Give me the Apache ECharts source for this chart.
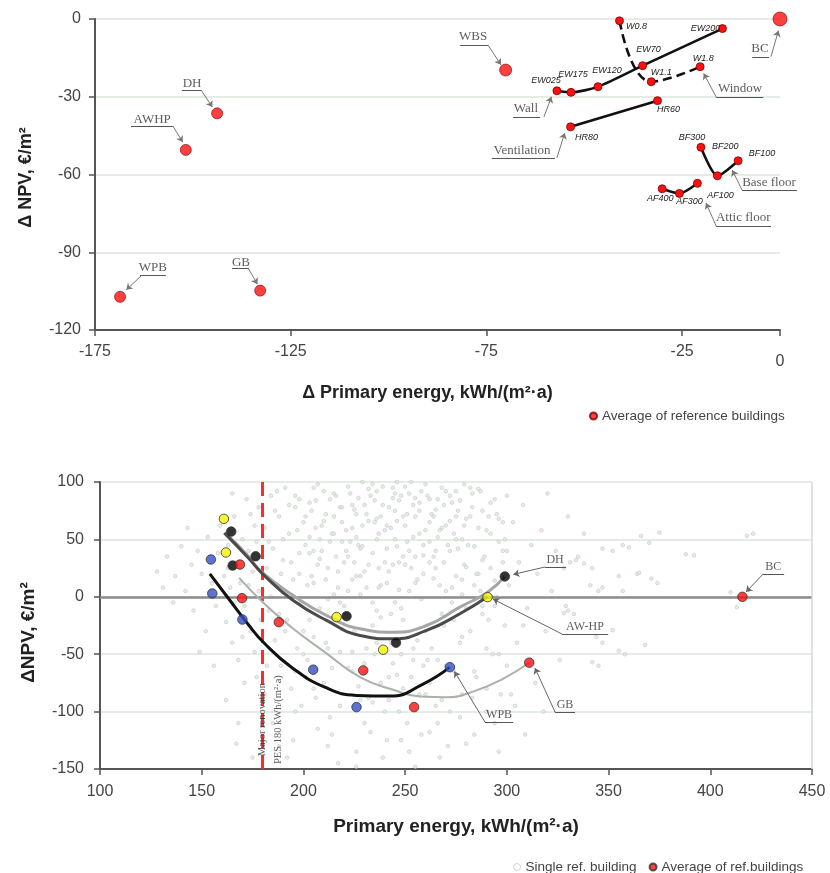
<!DOCTYPE html>
<html><head><meta charset="utf-8">
<script src="https://cdn.jsdelivr.net/npm/echarts@6/dist/echarts.min.js"></script>
<style>html,body{margin:0;padding:0;background:#fff}#c{width:830px;height:873px}</style>
</head><body><div id="c"></div>
<script>
// ================= TOP PANEL DATA (ΔPE vs ΔNPV) =================
const singleNames = ['WPB','AWHP','DH','GB','WBS','BC'];
const singleDX = [-168.6,-151.8,-143.8,-132.8,-70.1,0];
const singleDY = [-107.2,-50.5,-36.4,-104.8,-19.7,0];

const wallNames = ['EW025','EW175','EW120','EW70','EW200'];
const wallDX = [-57,-53.4,-46.5,-35.1,-14.7];
const wallDY = [-27.7,-28.3,-26.1,-18.0,-3.7];

const windowNames = ['W0.8','W1.1','W1.8'];
const windowDX = [-41,-32.9,-20.4];
const windowDY = [-0.7,-24.2,-18.4];

const ventNames = ['HR80','HR60'];
const ventDX = [-53.5,-31.3];
const ventDY = [-41.6,-31.5];

const baseNames = ['BF300','BF200','BF100'];
const baseDX = [-20.2,-16,-10.7];
const baseDY = [-49.5,-60.5,-54.7];

const atticNames = ['AF400','AF300','AF100'];
const atticDX = [-30.1,-25.7,-21.1];
const atticDY = [-65.5,-67.3,-63.4];

// annotation anchors (data units of the top panel)
const topNotes = [
  {text:'WBS', at:[-78.4,-6.9], line:[[-81.7,-10.0],[-74.6,-10.0]], arrow:[[-74.6,-10.0],[-71.3,-17.7]]},
  {text:'BC', at:[-5.1,-11.6], line:[[-7.1,-14.7],[-2.8,-14.7]], arrow:[[-2.3,-14.5],[-0.4,-4.5]]},
  {text:'Wall', at:[-64.9,-34.7], line:[[-68.2,-37.8],[-61.3,-37.8]], arrow:[[-60.3,-37.8],[-58.4,-30]]},
  {text:'Window', at:[-10.2,-27.0], line:[[-16.3,-30.1],[-4.3,-30.1]], arrow:[[-16.3,-30.1],[-19.5,-21]]},
  {text:'Ventilation', at:[-65.9,-50.9], line:[[-73.6,-53.6],[-57.5,-53.6]], arrow:[[-57.0,-53.6],[-55.0,-44]]},
  {text:'Base floor', at:[-2.8,-63.3], line:[[-9.7,-66.0],[4.3,-66.0]], arrow:[[-9.7,-66.0],[-12.2,-58.3]]},
  {text:'Attic floor', at:[-9.4,-76.8], line:[[-16.3,-79.9],[-2.3,-79.9]], arrow:[[-16.3,-79.9],[-18.9,-71]]},
  {text:'DH', at:[-150.2,-25.1], line:[[-152.8,-27.4],[-147.9,-27.4]], arrow:[[-147.9,-27.4],[-145.0,-34.0]]},
  {text:'AWHP', at:[-160.4,-39.0], line:[[-165.8,-41.3],[-155.1,-41.3]], arrow:[[-155.1,-41.3],[-152.6,-47.5]]},
  {text:'WPB', at:[-160.2,-96.1], line:[[-163.5,-98.8],[-156.9,-98.8]], arrow:[[-163.0,-98.8],[-167.0,-104.5]]},
  {text:'GB', at:[-137.7,-93.8], line:[[-140.0,-96.1],[-135.7,-96.1]], arrow:[[-135.9,-96.1],[-133.5,-102.3]]}
];

// ================= BOTTOM PANEL DATA (PE vs ΔNPV) =================
const singleRefBuildings = [
 [128,22],[133,35],[137,18],[140,44],[142,5],[145,28],[146,-12],[148,40],[150,20],[152,-30],[153,52],[155,12],[157,-8],[158,38],[159,62],[136,-5],[143,60],[149,-48],[156,-60],[131,8],
 [161,18],[162,-22],[163,45],[164,8],[165,-40],[166,70],[167,30],[168,-55],[169,12],[170,50],[171,-8],[172,85],[173,40],[174,-30],[175,22],[176,62],[177,-70],[178,5],[179,35],[162,-90],[165,90],[168,-110],[171,-75],[174,72],[177,48],[179,-20],[163,25],[166,-5],[170,-35],[173,10],[176,-48],[178,78],[180,-100],[167,-128],[175,-140],
 [181,60],[182,25],[183,-12],[184,88],[185,42],[186,-38],[187,10],[188,70],[189,-60],[190,32],[191,95],[192,-20],[193,55],[194,-80],[195,15],[196,78],[197,-45],[198,38],[199,-5],[200,65],[181,-85],[183,48],[185,-110],[187,92],[189,20],[191,-30],[193,80],[195,-125],[197,58],[199,-95],[182,-60],[184,0],[186,75],[188,-15],[190,50],[192,-140],[194,30],[196,-65],[198,85],[200,-30],
 [201,45],[202,-55],[203,82],[204,18],[205,-35],[206,60],[207,98],[208,-10],[209,40],[210,-75],[211,72],[212,25],[213,-105],[214,55],[215,-20],[216,88],[217,8],[218,-48],[219,65],[220,30],[202,10],[204,75],[206,-88],[208,50],[210,92],[212,-130],[214,-62],[216,35],[218,78],[220,-8],[203,-20],[205,95],[207,-115],[209,62],[211,-40],[213,85],[215,2],[217,-145],[219,48],[201,-70],[203,38],[211,15],[215,70],[219,-28],[207,28],
 [221,58],[222,-62],[223,90],[224,15],[225,-30],[226,72],[227,45],[228,-90],[229,100],[230,22],[231,-45],[232,66],[233,-118],[234,38],[235,84],[236,-12],[237,55],[238,-75],[239,96],[240,30],[222,5],[224,80],[226,-135],[228,42],[230,-58],[232,94],[234,-25],[236,68],[238,10],[240,-100],[221,-15],[223,48],[225,76],[227,-78],[229,62],[231,8],[233,88],[235,-50],[237,25],[239,-140],[222,35],[226,52],[230,80],[234,-5],[238,70],[224,-48],[228,18],[232,-88],[236,92],[240,58],
 [241,12],[242,78],[243,-40],[244,95],[245,50],[246,-68],[247,30],[248,88],[249,-20],[250,62],[251,-110],[252,40],[253,100],[254,-55],[255,70],[256,15],[257,-85],[258,92],[259,45],[260,-30],[241,-125],[243,60],[245,-5],[247,84],[249,35],[251,72],[253,-70],[255,-148],[257,55],[259,20],[242,-90],[244,28],[246,66],[248,-50],[250,96],[252,5],[254,80],[256,-38],[258,-120],[260,58],[241,42],[245,90],[249,-80],[253,25],[257,75],[243,-15],[247,-100],[251,48],[255,86],[259,-60],
 [261,88],[262,30],[263,-45],[264,70],[265,-95],[266,52],[267,10],[268,95],[269,-25],[270,62],[271,-130],[272,40],[273,82],[274,-65],[275,18],[276,75],[277,-40],[278,50],[279,98],[280,-10],[262,-75],[264,35],[266,-110],[268,60],[270,5],[272,88],[274,-20],[276,42],[278,-85],[280,68],[261,-55],[263,72],[265,25],[267,-140],[269,80],[271,45],[273,-5],[275,92],[277,-105],[279,28],[262,65],[266,85],[270,-60],[274,55],[278,15],
 [281,45],[282,-30],[283,78],[284,10],[285,-70],[286,60],[287,92],[288,-15],[289,35],[290,-100],[291,70],[292,25],[293,-50],[294,85],[295,0],[296,48],[297,-85],[298,65],[299,-25],[300,40],[282,95],[284,-120],[286,20],[288,75],[290,-45],[292,55],[294,-8],[296,-135],[298,30],[300,-60],[283,-88],[287,5],[291,-20],[295,72],[299,50],
 [301,10],[303,65],[305,-40],[306,30],[308,80],[310,-10],[312,45],[314,-75],[315,20],[317,58],[319,-30],[320,90],[322,5],[324,40],[326,-55],[328,25],[330,70],[333,-15],[335,35],[338,55],[341,10],[344,-35],[304,-95],[309,-120],[318,-100],
 [196,88],[198,20],[201,70],[203,52],[205,12],[206,84],[208,33],[210,66],[212,-2],[213,48],[215,90],[217,22],[219,78],[221,40],[222,96],[224,60],[226,18],[227,86],[229,44],[231,72],[232,28],[234,98],[236,50],[237,8],[239,80],[241,62],[242,22],[244,86],[246,44],[247,6],[249,70],[250,28],[252,90],[254,52],[255,12],[257,82],[259,36],[260,98],[262,48],[264,16],[265,76],[267,58],[269,30],[270,92],[272,66],[273,8],[275,50],[277,84],[279,62],[280,26],[282,70],[284,44],[286,94],[288,32],[290,58],[292,82],[294,14],[296,68],[298,40],[300,88],[218,-5],[228,2],[238,-18],[248,-10],[258,-2],[268,-15],[278,2],[288,-8],[205,40],[225,30],[245,75],[265,40],[285,20],[235,65],[255,35],[275,70],[215,55],[262,85],[283,90],[246,100],
 [200,-50],[205,-80],[212,-45],[218,-95],[224,-65],[230,-110],[236,-40],[242,-70],[248,-125],[254,-45],[260,-85],[266,-55],[272,-100],[278,-35],[284,-65],[290,-80],[296,-50],[302,-85],[308,-25],[214,-120],[226,-148],[252,-135],[268,-90],[234,-92],[244,-58],[262,-118],[280,-128],[196,-100],[188,-130],[294,-110],
 [388,37],[392,36],[410,4],[413,-9],[418,53],[421,55],[364,20],[365,21],[355,18],[371,16],[374,12],[347,8],[345,5],[357,5],[352,-29],[347,-40],[355,-47],[358,-50],[368,-42],[342,-57],[345,-60],[329,-8],[330,-12],[328,-14],[366,53],[370,47],[375,56],[331,30],[334,32],[338,29],[342,25],[347,42],[352,40],[357,45],[360,43]
];

const awhpPts = [[160.9,67.9],[161.9,38.6],[216.3,-17.7],[239.2,-46.1],[290.5,-0.3]];
const dhPts   = [[164.5,56.8],[165.2,27.2],[176.5,35.3],[221.2,-16.9],[245.5,-40.0],[299,17.7]];
const gbPts   = [[168.8,28.1],[169.8,-1.2],[187.9,-22.1],[229.4,-64.1],[254.4,-96.1],[311,-57.4]];
const wpbPts  = [[154.5,32.5],[155.2,2.9],[170,-19.8],[204.8,-63.5],[226.1,-96.1],[272,-61.3]];
const bcPts   = [[415.8,0]];

const awhpCurve = [[161.1,55.7],[172.6,34.5],[180.8,18.5],[195,-3.2],[211.4,-20.6],[227.8,-33.7],[244.1,-36.6],[260.5,-29.3],[276.9,-14.8],[290.5,0]];
const dhCurve   = [[163,53],[172.6,36],[178.6,23],[195,1.1],[211.4,-16.3],[227.8,-27.9],[244.1,-30.8],[260.5,-25],[276.9,-9],[290.5,4],[299,17.7]];
const gbCurve   = [[168.4,16.5],[180.8,-6.1],[194.1,-26.5],[210.5,-48.2],[227.8,-70],[244.1,-81],[257.2,-86.8],[270.3,-87.4],[285,-81.5],[298.1,-71.4],[311,-57.4]];
const wpbCurve  = [[154,20],[163.9,-3.2],[172.6,-23.5],[180.8,-40.5],[194.1,-61.3],[210.5,-78.7],[226.1,-85.9],[242.5,-86.5],[258.8,-76],[272,-61.3]];

const pesLimit = 180;

const bottomNotes = [
  {text:'DH', at:[323.7,32.1], line:[[318.8,26.0],[329.1,26.0]], arrow:[[318.8,26.0],[303.2,19.5]]},
  {text:'AW-HP', at:[338.4,-26.0], line:[[327.1,-32.4],[349.8,-32.4]], arrow:[[327.1,-32.4],[293.2,-2]]},
  {text:'WPB', at:[296.2,-103.1], line:[[289.3,-109.2],[303.1,-109.2]], arrow:[[289.3,-109.2],[274.2,-65]]},
  {text:'GB', at:[328.6,-94.3], line:[[323.7,-100.4],[333.5,-100.4]], arrow:[[323.7,-100.4],[313.8,-62]]},
  {text:'BC', at:[431.0,26.2], line:[[426.0,19.9],[436.3,19.9]], arrow:[[426.0,19.9],[417.6,4.2]]}
];
const bottomVerticalNotes = [
  {text:'Major renovation', at:[179.7,-107]},
  {text:'PES 180 kWh/(m²·a)', at:[187.6,-107]}
];

// ================= STYLES =================
const topSingleSizes = [11,11,11,11,12,14];
const wallOffsets = [[-11,-10],[2,-18],[9,-16],[6,-16],[-17,0]];
const windowOffsets = [[17,6],[10,-9],[3,-8]];
const ventOffsets = [[16,11],[11,9]];
const baseOffsets = [[-9,-10],[8,-29],[24,-7]];
const atticOffsets = [[-2,10],[10,8],[23,12]];

const SANS = 'Liberation Sans, Arial, sans-serif';
const SERIF = 'Liberation Serif, Times New Roman, serif';
const AXIS_C = '#555';
const GRID_C = '#dde4dd';
const RED = '#ff1010';

function groupData(names, xs, ys, offs) {
  return names.map((n, i) => ({name: n, value: [xs[i], ys[i]], label: {offset: offs[i]}}));
}
function groupSeries(name, names, xs, ys, offs, dashed) {
  return {
    type: 'line', name: name, xAxisIndex: 0, yAxisIndex: 0, z: 5,
    data: groupData(names, xs, ys, offs),
    smooth: dashed ? 0.45 : 0.25,
    symbol: 'circle', symbolSize: 8, showAllSymbol: true,
    itemStyle: {color: RED, borderColor: '#7a0000', borderWidth: 0.8},
    lineStyle: {color: '#111', width: 2.6, type: dashed ? [9, 5] : 'solid'},
    label: {show: true, position: 'inside', formatter: '{b}', fontSize: 9, fontStyle: 'italic',
            color: '#222', fontFamily: SANS},
    emphasis: {disabled: true}, clip: false
  };
}
function noteSeries(notes, xi, fs) {
  return {
    type: 'scatter', xAxisIndex: xi, yAxisIndex: xi, z: 7, silent: true, clip: false,
    symbolSize: 1, itemStyle: {color: 'rgba(0,0,0,0)'},
    data: notes.map(n => ({name: n.text, value: n.at})),
    label: {show: true, position: 'inside', formatter: '{b}', fontSize: fs, color: '#333', fontFamily: SERIF}
  };
}
function linesSeries(segs, xi, arrow, color) {
  return {
    type: 'lines', coordinateSystem: 'cartesian2d', xAxisIndex: xi, yAxisIndex: xi, z: 7, silent: true,
    clip: false, symbol: arrow ? ['none', 'arrow'] : ['none', 'none'], symbolSize: 6,
    lineStyle: {color: color, width: 1, opacity: 1, curveness: 0},
    data: segs.map(s => ({coords: s}))
  };
}
function valueAxis(grid, min, max, interval, extra) {
  return Object.assign({
    type: 'value', gridIndex: grid, min: min, max: max, interval: interval,
    axisLine: {show: true, onZero: false, lineStyle: {color: AXIS_C, width: 2}},
    axisTick: {show: true, length: 6, lineStyle: {color: AXIS_C, width: 1.5}},
    axisLabel: {fontSize: 16, color: '#444', fontFamily: SANS},
    splitLine: {show: false}
  }, extra);
}

const chart = echarts.init(document.getElementById('c'), null, {renderer: 'canvas'});
chart.setOption({
  animation: false,
  backgroundColor: '#fff',
  textStyle: {fontFamily: SANS},
  grid: [
    {left: 95, top: 19, width: 685, height: 311},
    {left: 100, top: 482, width: 712, height: 287}
  ],
  xAxis: [
    valueAxis(0, -175, 0, 50, {
      name: 'Δ Primary energy, kWh/(m²·a)', nameLocation: 'middle', nameGap: 54,
      nameTextStyle: {fontSize: 18, fontWeight: 'bold', color: '#222', padding: [0, 20, 0, 0]},
      axisLabel: {fontSize: 16, color: '#444', margin: 14, fontFamily: SANS,
        formatter: v => v === 0 ? '{z|0}' : String(v),
        rich: {z: {fontSize: 16, color: '#444', padding: [10, 0, 0, 0], fontFamily: SANS}}}
    }),
    valueAxis(1, 100, 450, 50, {
      name: 'Primary energy, kWh/(m²·a)', nameLocation: 'middle', nameGap: 48,
      nameTextStyle: {fontSize: 19, fontWeight: 'bold', color: '#222'},
      axisLabel: {fontSize: 16, color: '#444', margin: 15, fontFamily: SANS}
    })
  ],
  yAxis: [
    valueAxis(0, -120, 0, 30, {
      name: 'Δ NPV, €/m²', nameLocation: 'middle', nameGap: 60, nameRotate: 90,
      nameTextStyle: {fontSize: 18, fontWeight: 'bold', color: '#222', padding: [0, 6, 0, 0]},
      axisLabel: {fontSize: 16, color: '#444', margin: 14, fontFamily: SANS},
      splitLine: {show: true, lineStyle: {color: GRID_C, width: 1.5}}
    }),
    valueAxis(1, -150, 100, 50, {
      name: 'ΔNPV, €/m²', nameLocation: 'middle', nameGap: 62, nameRotate: 90,
      nameTextStyle: {fontSize: 19, fontWeight: 'bold', color: '#222', padding: [0, 14, 0, 0]},
      axisLabel: {fontSize: 16, color: '#444', margin: 16, fontFamily: SANS},
      splitLine: {show: true, lineStyle: {color: GRID_C, width: 1.5}}
    })
  ],
  legend: [
    {data: [{name: 'Average of reference buildings', icon: 'circle'}], left: 584, top: 404,
     itemWidth: 7, itemHeight: 7, selectedMode: false,
     textStyle: {fontSize: 13.5, color: '#444', fontFamily: SANS}},
    {data: [{name: 'Single ref. building', icon: 'circle', itemStyle: {color: '#fff', borderColor: '#c2cbc2', borderWidth: 1}},
            {name: 'Average of ref.buildings', icon: 'circle'}],
     left: 508, top: 855, itemWidth: 7, itemHeight: 7, itemGap: 12, selectedMode: false,
     textStyle: {fontSize: 13.5, color: '#444', fontFamily: SANS}}
  ],
  series: [
    // ---- top panel ----
    {type: 'scatter', name: 'Average of reference buildings', xAxisIndex: 0, yAxisIndex: 0, z: 5, clip: false,
     data: singleNames.map((n, i) => ({name: n, value: [singleDX[i], singleDY[i]], symbolSize: topSingleSizes[i]})),
     itemStyle: {color: RED, borderColor: '#7a0000', borderWidth: 0.8}},
    groupSeries('Wall', wallNames, wallDX, wallDY, wallOffsets, false),
    groupSeries('Window', windowNames, windowDX, windowDY, windowOffsets, true),
    groupSeries('Ventilation', ventNames, ventDX, ventDY, ventOffsets, false),
    groupSeries('Base floor', baseNames, baseDX, baseDY, baseOffsets, false),
    groupSeries('Attic floor', atticNames, atticDX, atticDY, atticOffsets, false),
    noteSeries(topNotes, 0, 13),
    linesSeries(topNotes.map(n => n.line), 0, false, '#555'),
    linesSeries(topNotes.map(n => n.arrow), 0, true, '#777'),

    // ---- bottom panel ----
    {type: 'scatter', name: 'Single ref. building', xAxisIndex: 1, yAxisIndex: 1, z: 2, silent: true,
     data: singleRefBuildings, symbolSize: 3.6,
     itemStyle: {color: '#e3e8e3', borderColor: '#b8c4b8', borderWidth: 0.7},
     markLine: {silent: true, symbol: ['none', 'none'], z: 3, animation: false, label: {show: false},
       data: [
         {xAxis: pesLimit, lineStyle: {color: '#ff2a2a', width: 3, type: [14, 7]}},
         {yAxis: 0, lineStyle: {color: '#8c8c8c', width: 2.5, type: 'solid'}},
         {xAxis: 450, lineStyle: {color: '#d3d9d3', width: 1.5, type: 'solid'}}
       ]}},
    {type: 'line', name: 'GB curve', xAxisIndex: 1, yAxisIndex: 1, z: 4, data: gbCurve, smooth: true,
     showSymbol: false, lineStyle: {color: '#a9b1a9', width: 2}},
    {type: 'line', name: 'DH curve', xAxisIndex: 1, yAxisIndex: 1, z: 4, data: dhCurve, smooth: true,
     showSymbol: false, lineStyle: {color: '#a3a8a3', width: 3}},
    {type: 'line', name: 'AW-HP curve', xAxisIndex: 1, yAxisIndex: 1, z: 4, data: awhpCurve, smooth: true,
     showSymbol: false, lineStyle: {color: '#4a4a4a', width: 3}},
    {type: 'line', name: 'WPB curve', xAxisIndex: 1, yAxisIndex: 1, z: 4, data: wpbCurve, smooth: true,
     showSymbol: false, lineStyle: {color: '#111', width: 3}},
    {type: 'scatter', name: 'AW-HP', xAxisIndex: 1, yAxisIndex: 1, z: 6, data: awhpPts, symbolSize: 9.5,
     itemStyle: {color: '#f2f200', borderColor: '#333', borderWidth: 1}},
    {type: 'scatter', name: 'DH', xAxisIndex: 1, yAxisIndex: 1, z: 6, data: dhPts, symbolSize: 9.5,
     itemStyle: {color: '#000', borderColor: '#333', borderWidth: 1}},
    {type: 'scatter', name: 'WPB', xAxisIndex: 1, yAxisIndex: 1, z: 6, data: wpbPts, symbolSize: 9.5,
     itemStyle: {color: '#3450c8', borderColor: '#333', borderWidth: 1}},
    {type: 'scatter', name: 'Average of ref.buildings', xAxisIndex: 1, yAxisIndex: 1, z: 6, data: gbPts, symbolSize: 9.5,
     itemStyle: {color: RED, borderColor: '#333', borderWidth: 1}},
    {type: 'scatter', name: 'Average of ref.buildings', xAxisIndex: 1, yAxisIndex: 1, z: 6, data: bcPts, symbolSize: 9.5,
     itemStyle: {color: RED, borderColor: '#333', borderWidth: 1}},
    noteSeries(bottomNotes, 1, 12),
    linesSeries(bottomNotes.map(n => n.line), 1, false, '#555'),
    linesSeries(bottomNotes.map(n => n.arrow), 1, true, '#666'),
    {type: 'scatter', xAxisIndex: 1, yAxisIndex: 1, z: 7, silent: true, symbolSize: 1,
     itemStyle: {color: 'rgba(0,0,0,0)'},
     data: bottomVerticalNotes.map(n => ({name: n.text, value: n.at})),
     label: {show: true, position: 'inside', rotate: 90, formatter: '{b}', fontSize: 10.5,
             color: '#333', fontFamily: SERIF}}
  ]
});
</script></body></html>
